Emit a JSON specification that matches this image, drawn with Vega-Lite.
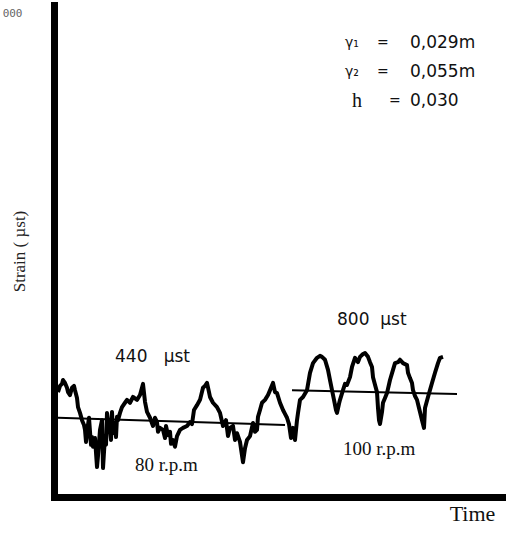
{
  "$schema": "https://vega.github.io/schema/vega-lite/v6.json",
  "width": 452,
  "height": 492,
  "autosize": "none",
  "padding": {"left": 54, "top": 5, "right": 0, "bottom": 38},
  "background": "white",
  "config": {"view": {"stroke": null}, "axis": {"grid": false}},
  "datasets": {
    "trace": [
      {"t":4,"strain":217},{"t":6,"strain":230},{"t":8,"strain":234},{"t":9,"strain":242},{"t":11,"strain":236},{"t":13,"strain":226},{"t":14,"strain":217},{"t":16,"strain":211},{"t":18,"strain":226},{"t":20,"strain":230},{"t":21,"strain":221},{"t":23,"strain":205},{"t":24,"strain":186},{"t":26,"strain":174},{"t":28,"strain":159},{"t":30,"strain":149},{"t":31,"strain":139},{"t":32,"strain":114},{"t":33,"strain":132},{"t":34,"strain":149},{"t":35,"strain":164},{"t":36,"strain":135},{"t":37,"strain":108},{"t":38,"strain":124},{"t":39,"strain":104},{"t":41,"strain":122},{"t":43,"strain":62},{"t":44,"strain":85},{"t":46,"strain":139},{"t":48,"strain":159},{"t":49,"strain":60},{"t":51,"strain":126},{"t":52,"strain":108},{"t":53,"strain":174},{"t":54,"strain":159},{"t":56,"strain":139},{"t":57,"strain":118},{"t":58,"strain":176},{"t":59,"strain":132},{"t":61,"strain":153},{"t":62,"strain":124},{"t":63,"strain":166},{"t":64,"strain":159},{"t":66,"strain":174},{"t":68,"strain":186},{"t":71,"strain":195},{"t":73,"strain":201},{"t":76,"strain":195},{"t":79,"strain":207},{"t":83,"strain":201},{"t":86,"strain":211},{"t":89,"strain":234},{"t":91,"strain":197},{"t":93,"strain":176},{"t":96,"strain":164},{"t":99,"strain":147},{"t":101,"strain":164},{"t":103,"strain":155},{"t":104,"strain":135},{"t":106,"strain":143},{"t":109,"strain":139},{"t":111,"strain":122},{"t":112,"strain":147},{"t":114,"strain":128},{"t":116,"strain":135},{"t":117,"strain":110},{"t":119,"strain":118},{"t":121,"strain":104},{"t":123,"strain":126},{"t":126,"strain":139},{"t":129,"strain":143},{"t":133,"strain":147},{"t":136,"strain":155},{"t":138,"strain":151},{"t":140,"strain":180},{"t":143,"strain":190},{"t":146,"strain":201},{"t":149,"strain":226},{"t":151,"strain":230},{"t":153,"strain":236},{"t":155,"strain":217},{"t":156,"strain":207},{"t":159,"strain":195},{"t":163,"strain":186},{"t":166,"strain":174},{"t":169,"strain":147},{"t":172,"strain":159},{"t":174,"strain":126},{"t":176,"strain":143},{"t":179,"strain":147},{"t":181,"strain":118},{"t":183,"strain":132},{"t":186,"strain":114},{"t":189,"strain":72},{"t":191,"strain":101},{"t":193,"strain":118},{"t":196,"strain":126},{"t":199,"strain":153},{"t":201,"strain":135},{"t":203,"strain":139},{"t":204,"strain":166},{"t":206,"strain":180},{"t":208,"strain":195},{"t":211,"strain":201},{"t":214,"strain":211},{"t":216,"strain":221},{"t":219,"strain":236},{"t":221,"strain":217},{"t":223,"strain":215},{"t":226,"strain":195},{"t":229,"strain":180},{"t":231,"strain":172},{"t":233,"strain":164},{"t":235,"strain":151},{"t":237,"strain":122},{"t":239,"strain":143},{"t":241,"strain":118},{"t":243,"strain":159},{"t":244,"strain":174},{"t":246,"strain":201},{"t":249,"strain":207},{"t":253,"strain":221},{"t":256,"strain":257},{"t":259,"strain":277},{"t":263,"strain":288},{"t":266,"strain":292},{"t":268,"strain":290},{"t":271,"strain":284},{"t":274,"strain":263},{"t":276,"strain":242},{"t":278,"strain":221},{"t":280,"strain":201},{"t":282,"strain":180},{"t":283,"strain":174},{"t":285,"strain":193},{"t":286,"strain":201},{"t":289,"strain":221},{"t":291,"strain":234},{"t":293,"strain":232},{"t":296,"strain":248},{"t":298,"strain":269},{"t":301,"strain":288},{"t":304,"strain":279},{"t":306,"strain":290},{"t":309,"strain":296},{"t":311,"strain":298},{"t":314,"strain":290},{"t":316,"strain":279},{"t":318,"strain":269},{"t":319,"strain":248},{"t":321,"strain":232},{"t":323,"strain":217},{"t":324,"strain":184},{"t":325,"strain":159},{"t":326,"strain":151},{"t":328,"strain":176},{"t":329,"strain":195},{"t":331,"strain":205},{"t":333,"strain":215},{"t":336,"strain":242},{"t":339,"strain":263},{"t":341,"strain":277},{"t":344,"strain":279},{"t":346,"strain":284},{"t":349,"strain":277},{"t":351,"strain":275},{"t":353,"strain":273},{"t":354,"strain":257},{"t":356,"strain":246},{"t":358,"strain":236},{"t":359,"strain":221},{"t":361,"strain":209},{"t":363,"strain":201},{"t":365,"strain":184},{"t":366,"strain":176},{"t":368,"strain":159},{"t":370,"strain":143},{"t":371,"strain":184},{"t":374,"strain":207},{"t":378,"strain":236},{"t":381,"strain":257},{"t":384,"strain":277},{"t":386,"strain":288},{"t":389,"strain":290}
    ],
    "mean": [
      {"t":4,"strain":164,"speed":"80 r.p.m"},{"t":231,"strain":149,"speed":"80 r.p.m"},
      {"t":238,"strain":221,"speed":"100 r.p.m"},{"t":403,"strain":213,"speed":"100 r.p.m"}
    ],
    "notes": [
      {"key": "a", "label": "440\u00a0\u00a0\u00a0µst"},
      {"key": "b", "label": "800\u00a0\u00a0µst"},
      {"key": "c", "label": "80 r.p.m"},
      {"key": "d", "label": "100 r.p.m"},
      {"key": "g1", "label": "γ₁"},
      {"key": "g2", "label": "γ₂"},
      {"key": "h", "label": "h"},
      {"key": "e", "label": "="},
      {"key": "v1", "label": "0,029m"},
      {"key": "v2", "label": "0,055m"},
      {"key": "v3", "label": "0,030"}
    ]
  },
  "layer": [
    {"data": {"name": "trace"}, "mark": {"type": "line", "color": "black", "strokeWidth": 4, "strokeJoin": "round"},
      "encoding": {
        "x": {"field": "t", "type": "quantitative", "scale": {"domain": [0, 452], "nice": false, "zero": false},
          "axis": {"title": "Time", "ticks": false, "labels": false, "domainColor": "black", "domainWidth": 7, "domainCap": "square",
            "titleFont": "Liberation Serif", "titleFontSize": 22, "titleFontWeight": "normal", "titleColor": "#111",
            "titleX": 418, "titleY": 16, "titleAlign": "center", "titleBaseline": "middle"}},
        "y": {"field": "strain", "type": "quantitative", "scale": {"domain": [0, 1018], "nice": false, "zero": false},
          "axis": {"title": "Strain ( µst)", "values": [1000], "format": "d", "labelExpr": "slice(datum.label, 1)",
            "ticks": false, "tickSize": 0, "labelPadding": 32, "labelFont": "DejaVu Sans Mono", "labelFontSize": 11, "labelColor": "#666",
            "domainColor": "black", "domainWidth": 7, "domainCap": "square",
            "titleFont": "Liberation Serif", "titleFontSize": 17, "titleFontWeight": "normal", "titleColor": "#222",
            "titleAngle": 270, "titleX": -35, "titleY": 246, "titleAlign": "center", "titleBaseline": "middle"}}
      }},
    {"data": {"name": "mean"}, "mark": {"type": "line", "color": "black", "strokeWidth": 2},
      "encoding": {"x": {"field": "t", "type": "quantitative"}, "y": {"field": "strain", "type": "quantitative"}, "detail": {"field": "speed"}}},
    {"data": {"name": "notes"}, "transform": [{"filter": "datum.key === 'a'"}],
      "mark": {"type": "text", "align": "left", "baseline": "middle", "font": "DejaVu Sans", "fontSize": 17, "color": "#111"},
      "encoding": {"x": {"datum": 61, "type": "quantitative"}, "y": {"datum": 290, "type": "quantitative"}, "text": {"field": "label"}}},
    {"data": {"name": "notes"}, "transform": [{"filter": "datum.key === 'b'"}],
      "mark": {"type": "text", "align": "left", "baseline": "middle", "font": "DejaVu Sans", "fontSize": 17, "color": "#111"},
      "encoding": {"x": {"datum": 283, "type": "quantitative"}, "y": {"datum": 366, "type": "quantitative"}, "text": {"field": "label"}}},
    {"data": {"name": "notes"}, "transform": [{"filter": "datum.key === 'c'"}],
      "mark": {"type": "text", "align": "left", "baseline": "middle", "font": "Liberation Serif", "fontSize": 19, "color": "#111"},
      "encoding": {"x": {"datum": 81, "type": "quantitative"}, "y": {"datum": 66, "type": "quantitative"}, "text": {"field": "label"}}},
    {"data": {"name": "notes"}, "transform": [{"filter": "datum.key === 'd'"}],
      "mark": {"type": "text", "align": "left", "baseline": "middle", "font": "Liberation Serif", "fontSize": 19, "color": "#111"},
      "encoding": {"x": {"datum": 289, "type": "quantitative"}, "y": {"datum": 99, "type": "quantitative"}, "text": {"field": "label"}}},
    {"data": {"name": "notes"}, "transform": [{"filter": "datum.key === 'g1'"}],
      "mark": {"type": "text", "align": "left", "baseline": "middle", "font": "DejaVu Sans", "fontSize": 14, "color": "#111"},
      "encoding": {"x": {"datum": 291, "type": "quantitative"}, "y": {"datum": 940, "type": "quantitative"}, "text": {"field": "label"}}},
    {"data": {"name": "notes"}, "transform": [{"filter": "datum.key === 'g2'"}],
      "mark": {"type": "text", "align": "left", "baseline": "middle", "font": "DejaVu Sans", "fontSize": 14, "color": "#111"},
      "encoding": {"x": {"datum": 291, "type": "quantitative"}, "y": {"datum": 880, "type": "quantitative"}, "text": {"field": "label"}}},
    {"data": {"name": "notes"}, "transform": [{"filter": "datum.key === 'h'"}],
      "mark": {"type": "text", "align": "left", "baseline": "middle", "font": "Liberation Serif", "fontSize": 20, "color": "#111"},
      "encoding": {"x": {"datum": 298, "type": "quantitative"}, "y": {"datum": 820, "type": "quantitative"}, "text": {"field": "label"}}},
    {"data": {"name": "notes"}, "transform": [{"filter": "datum.key === 'e'"}],
      "mark": {"type": "text", "align": "left", "baseline": "middle", "font": "DejaVu Sans", "fontSize": 14, "color": "#111"},
      "encoding": {"x": {"datum": 323, "type": "quantitative"}, "y": {"datum": 940, "type": "quantitative"}, "text": {"field": "label"}}},
    {"data": {"name": "notes"}, "transform": [{"filter": "datum.key === 'e'"}],
      "mark": {"type": "text", "align": "left", "baseline": "middle", "font": "DejaVu Sans", "fontSize": 14, "color": "#111"},
      "encoding": {"x": {"datum": 323, "type": "quantitative"}, "y": {"datum": 880, "type": "quantitative"}, "text": {"field": "label"}}},
    {"data": {"name": "notes"}, "transform": [{"filter": "datum.key === 'e'"}],
      "mark": {"type": "text", "align": "left", "baseline": "middle", "font": "DejaVu Sans", "fontSize": 14, "color": "#111"},
      "encoding": {"x": {"datum": 335, "type": "quantitative"}, "y": {"datum": 820, "type": "quantitative"}, "text": {"field": "label"}}},
    {"data": {"name": "notes"}, "transform": [{"filter": "datum.key === 'v1'"}],
      "mark": {"type": "text", "align": "left", "baseline": "middle", "font": "DejaVu Sans", "fontSize": 17, "color": "#111"},
      "encoding": {"x": {"datum": 356, "type": "quantitative"}, "y": {"datum": 940, "type": "quantitative"}, "text": {"field": "label"}}},
    {"data": {"name": "notes"}, "transform": [{"filter": "datum.key === 'v2'"}],
      "mark": {"type": "text", "align": "left", "baseline": "middle", "font": "DejaVu Sans", "fontSize": 17, "color": "#111"},
      "encoding": {"x": {"datum": 356, "type": "quantitative"}, "y": {"datum": 880, "type": "quantitative"}, "text": {"field": "label"}}},
    {"data": {"name": "notes"}, "transform": [{"filter": "datum.key === 'v3'"}],
      "mark": {"type": "text", "align": "left", "baseline": "middle", "font": "DejaVu Sans", "fontSize": 17, "color": "#111"},
      "encoding": {"x": {"datum": 356, "type": "quantitative"}, "y": {"datum": 820, "type": "quantitative"}, "text": {"field": "label"}}}
  ]
}
